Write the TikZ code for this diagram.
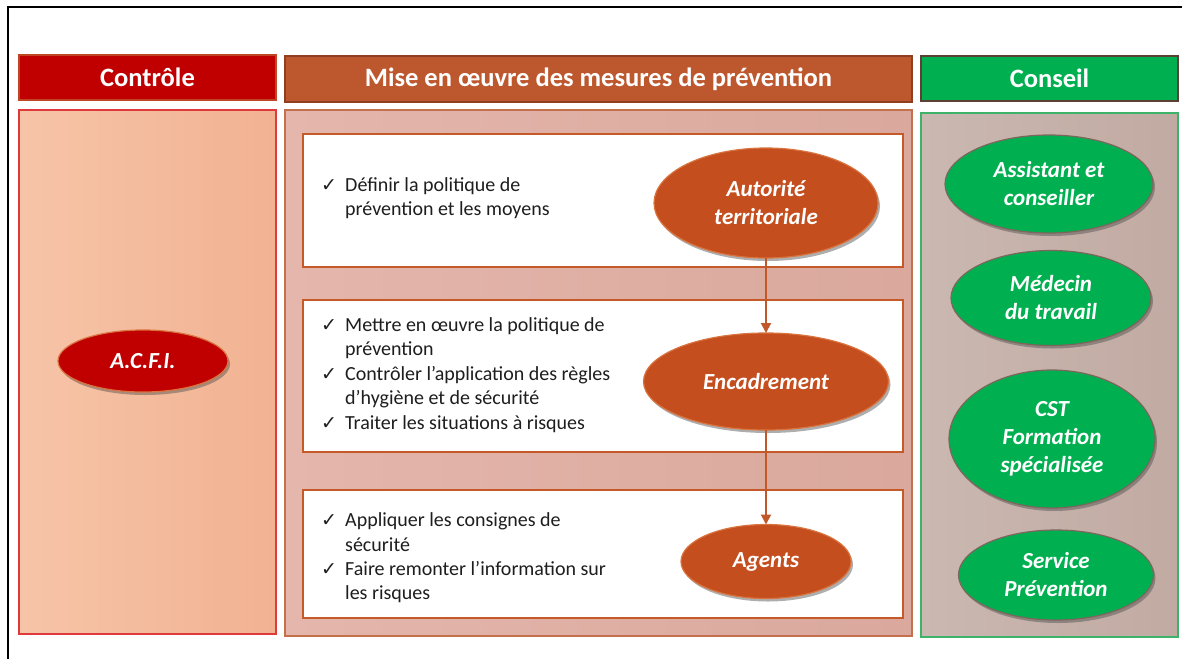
\documentclass[tikz,border=0pt]{standalone}
\usepackage{fontspec}
\setmainfont{Carlito}
\newfontfamily\dejavu{DejaVu Sans}
\usetikzlibrary{shapes.geometric,shadows,arrows.meta}
\definecolor{ctrlred}{HTML}{C00000}
\definecolor{misebrown}{HTML}{BD582E}
\definecolor{misebord}{HTML}{8F3E20}
\definecolor{consgreen}{HTML}{00B050}
\definecolor{consbord}{HTML}{5C4033}
\definecolor{peachL}{HTML}{F7C4A8}
\definecolor{peachR}{HTML}{F1B292}
\definecolor{leftbord}{HTML}{E0393B}
\definecolor{midL}{HTML}{E4B6AC}
\definecolor{midR}{HTML}{DAA89C}
\definecolor{midbord}{HTML}{C5704D}
\definecolor{rightL}{HTML}{CAB8B1}
\definecolor{rightR}{HTML}{C1AAA2}
\definecolor{rightbord}{HTML}{3DB36A}
\definecolor{boxbord}{HTML}{C55A28}
\definecolor{ellorange}{HTML}{C44E1E}
\definecolor{ellorbord}{HTML}{D9733F}
\definecolor{arrcol}{HTML}{C0582A}
\definecolor{txt}{HTML}{1E1E1E}
\newcommand{\ck}{{\dejavu\fontsize{19}{19}\selectfont ✓}}
\tikzset{
  hdr/.style={rectangle, inner sep=0pt, outer sep=0pt, line width=1.5pt, text=white,
    font=\bfseries\fontsize{26.5}{30}\selectfont},
  panel/.style={rectangle, inner sep=0pt, outer sep=0pt, line width=1.5pt},
  wbox/.style={rectangle, inner sep=0pt, outer sep=0pt, draw=boxbord, line width=2pt, fill=white,
    minimum width=600pt},
  lst/.style={anchor=west, inner sep=0pt, text=txt, font=\fontsize{20}{24.4}\selectfont},
  ell/.style={ellipse, inner sep=0pt, outer sep=0pt, line width=1.2pt, text=white, align=center,
    font=\bfseries\itshape\fontsize{23}{28}\selectfont,
    drop shadow={shadow xshift=2pt, shadow yshift=-3pt, opacity=0.45, fill=black!70}},
  oell/.style={ell, fill=ellorange, draw=ellorbord},
  gell/.style={ell, fill=consgreen, draw=consbord!80},
  arr/.style={draw=arrcol, line width=2pt, -{Triangle[length=10pt,width=10pt]}}
}
\begin{document}
\begin{tikzpicture}[x=1pt,y=-1pt]
\useasboundingbox (0,0) rectangle (1182,659);
\fill[white] (0,0) rectangle (1182,659);
\coordinate (fa) at (8,659);
\coordinate (fb) at (8,7);
\coordinate (fc) at (1182,7);
\draw[line width=2.2pt] (fa) -- (fb) -- (fc);
% headers
\node[hdr, fill=ctrlred, draw=misebrown!80!ctrlred, minimum width=257pt, minimum height=45pt] (hctrl) at (147.5,77.5) {Contrôle};
\node[hdr, fill=misebrown, draw=misebord, minimum width=627pt, minimum height=46pt] (hmise) at (598.5,79) {Mise en œuvre des mesures de prévention};
\node[hdr, fill=consgreen, draw=consbord, minimum width=257pt, minimum height=45pt] (hcons) at (1049.5,78.5) {Conseil};
% panels
\node[panel, draw=leftbord, left color=peachL, right color=peachR, minimum width=257pt, minimum height=524pt] (pleft) at (147.5,372) {};
\node[panel, draw=midbord, left color=midL, right color=midR, minimum width=627pt, minimum height=526pt] (pmid) at (598.5,373) {};
\node[panel, draw=rightbord, left color=rightL, right color=rightR, minimum width=257pt, minimum height=524pt] (pright) at (1049.5,375) {};
% inner boxes
\node[wbox, minimum height=133pt] (b1) at (603,200.5) {};
\node[wbox, minimum height=152pt] (b2) at (603,376) {};
\node[wbox, minimum height=128pt] (b3) at (603,554) {};
% lists
\node[lst] (l1) at (321,198.5) {\begin{tabular}{@{}p{24pt}@{}l@{}}
\ck & Définir la politique de\\
 & prévention et les moyens
\end{tabular}};
\node[lst] (l2) at (321,375.5) {\begin{tabular}{@{}p{24pt}@{}l@{}}
\ck & Mettre en œuvre la politique de\\
 & prévention\\
\ck & Contrôler l’application des règles\\
 & d’hygiène et de sécurité\\
\ck & Traiter les situations à risques
\end{tabular}};
\node[lst] (l3) at (321,558.5) {\begin{tabular}{@{}p{24pt}@{}l@{}}
\ck & Appliquer les consignes de\\
 & sécurité\\
\ck & Faire remonter l’information sur\\
 & les risques
\end{tabular}};
% orange ellipses
\node[oell, minimum width=224pt, minimum height=110pt] (aut) at (766,203) {Autorité\\territoriale};
\node[oell, minimum width=245pt, minimum height=97pt] (enc) at (766,381.5) {Encadrement};
\node[oell, minimum width=170pt, minimum height=74pt] (agt) at (766,561.5) {Agents};
\draw[arr] (aut.south) -- (enc.north);
\draw[arr] (enc.south) -- (agt.north);
% ACFI
\node[ell, fill=ctrlred, draw=ellorbord, minimum width=170pt, minimum height=62pt, font=\bfseries\itshape\fontsize{23}{26}\selectfont] (acfi) at (143,361) {A.C.F.I.};
% green ellipses
\node[gell, minimum width=208pt, minimum height=98pt] (ass) at (1049,184) {Assistant et\\conseiller};
\node[gell, minimum width=200pt, minimum height=95pt] (med) at (1051,298) {Médecin\\du travail};
\node[gell, minimum width=206pt, minimum height=138pt] (cst) at (1052,439) {CST\\Formation\\spécialisée};
\node[gell, minimum width=195pt, minimum height=90pt] (srv) at (1056,575) {Service\\Prévention};
\end{tikzpicture}
\end{document}
